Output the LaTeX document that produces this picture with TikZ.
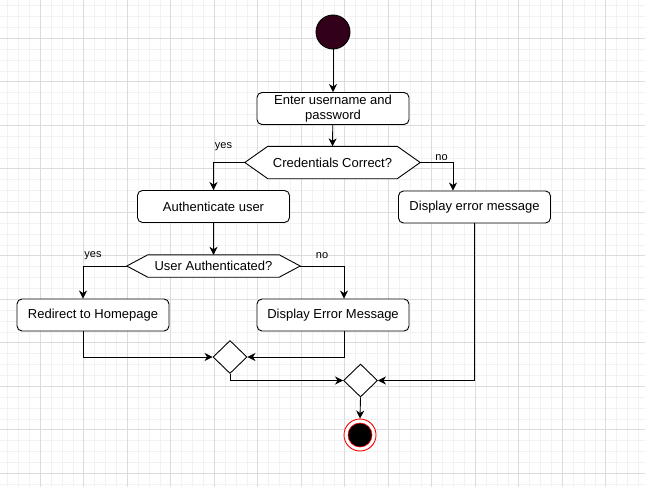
\documentclass[tikz,border=0pt]{standalone}
\usepackage{fontspec}
\setmainfont{Liberation Sans}
\usetikzlibrary{arrows.meta,calc,shapes.geometric}
\definecolor{startfill}{HTML}{33001A}
\definecolor{gridmajor}{HTML}{DCDCDC}
\definecolor{gridminor}{HTML}{F2F2F2}
\pgfdeclarelayer{gridlayer}
\pgfdeclarelayer{shapelayer}
\pgfsetlayers{gridlayer,shapelayer,main}
\tikzset{
  act/.style={draw=black, line width=0.9pt, rounded corners=5pt, fill=white,
    minimum width=152pt, minimum height=32pt, align=center, inner sep=2pt,
    font=\fontsize{13}{14.5}\selectfont},
  hexbox/.style={minimum height=#1, inner sep=0pt, font=\fontsize{13}{14.5}\selectfont},
  hexline/.style={draw=black, line width=0.9pt, fill=white},
  merge/.style={draw=black, line width=0.9pt, fill=white, diamond, inner sep=0pt,
    minimum width=34pt, minimum height=33pt},
  conn/.style={draw=black, line width=0.9pt, -{Stealth[length=8pt,width=8pt,inset=2.5pt]}},
  lbl/.style={font=\fontsize{11}{13}\selectfont, inner sep=0pt}
}
\begin{document}
\begin{tikzpicture}[x=1pt,y=-1pt]
\useasboundingbox (0,0) rectangle (645,487);
\begin{pgfonlayer}{gridlayer}
  \fill[white] (0,0) rectangle (645,487);
  \foreach \i in {0,...,60} {\draw[gridminor, line width=0.8pt] ({-3.2+\i*10.875},0) -- ++(0,487);}
  \foreach \i in {0,...,46} {\draw[gridminor, line width=0.8pt] (0,{-5.2+\i*10.875}) -- ++(645,0);}
  \foreach \i in {0,...,14} {\draw[gridmajor, line width=0.8pt] ({40.3+\i*43.5},0) -- ++(0,487);}
  \foreach \i in {-1,...,10} {\draw[gridmajor, line width=0.8pt] (0,{38.3+\i*43.5}) -- ++(645,0);}
\end{pgfonlayer}

% start
\node (start) [circle, draw=black, line width=0.9pt, fill=startfill, minimum size=34pt, inner sep=0pt] at (333,32) {};
% actions
\node (enter) [act] at (333,108.5) {Enter username and\\password};
\node (auth) [act] at (213.5,206.5) {Authenticate user};
\node (dem) [act] at (474.5,207) {Display error message};
\node (redir) [act] at (93,315) {Redirect to Homepage};
\node (demsg) [act] at (333,315) {Display Error Message};
% decisions
\node (c1) [hexbox=32pt, minimum width=175pt] at (332.5,162.5) {Credentials Correct?};
\node (c2) [hexbox=22pt, minimum width=173pt] at (213.5,266) {User Authenticated?};
\begin{pgfonlayer}{shapelayer}
  \draw[hexline] (c1.west) -- ($(c1.north west)+(23,0)$) -- ($(c1.north east)+(-23,0)$) -- (c1.east)
     -- ($(c1.south east)+(-23,0)$) -- ($(c1.south west)+(23,0)$) -- cycle;
  \draw[hexline] (c2.west) -- ($(c2.north west)+(21,0)$) -- ($(c2.north east)+(-21,0)$) -- (c2.east)
     -- ($(c2.south east)+(-21,0)$) -- ($(c2.south west)+(21,0)$) -- cycle;
\end{pgfonlayer}
% merges
\node (m1) [merge] at (230,357) {};
\node (m2) [merge] at (360.5,380.5) {};
% end
\node (endo) [circle, draw=red, line width=0.9pt, fill=white, minimum size=32pt, inner sep=0pt] at (360,435) {};
\node (endi) [circle, draw=red, line width=0.6pt, fill=black, minimum size=24pt, inner sep=0pt] at (endo) {};

% labels
\node (y1) [lbl] at (223.5,147) {yes};
\node (n1) [lbl] at (441.5,157.5) {no};
\node (y2) [lbl] at (93,256) {yes};
\node (n2) [lbl] at (322,256) {no};

% connectors
\coordinate (demIn) at ($(dem.north)+(-21.5,0)$);
\coordinate (redirIn) at ($(redir.north)+(-10,0)$);
\coordinate (redirOut) at ($(redir.south)+(-10,0)$);
\coordinate (demsgIn) at ($(demsg.north)+(11,0)$);
\coordinate (demsgOut) at ($(demsg.south)+(11,0)$);
\draw[conn] (start) -- (enter);
\draw[conn] (enter) -- (c1.north);
\draw[conn] (c1.west) -| (auth.north);
\draw[conn] (c1.east) -| (demIn);
\draw[conn] (auth) -- (c2.north);
\draw[conn] (c2.west) -| (redirIn);
\draw[conn] (c2.east) -| (demsgIn);
\draw[conn] (redirOut) |- (m1.west);
\draw[conn] (demsgOut) |- (m1.east);
\draw[conn] (m1.south) |- (m2.west);
\draw[conn] (dem.south) |- (m2.east);
\draw[conn] (m2.south) -- (endo.north);
\end{tikzpicture}
\end{document}
